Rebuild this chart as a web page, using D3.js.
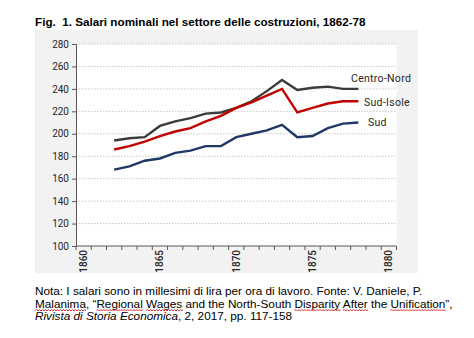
<!DOCTYPE html>
<html><head><meta charset="utf-8">
<script src="https://cdn.jsdelivr.net/npm/d3@7"></script>
<style>
html,body{margin:0;padding:0;background:#fff;}
svg{display:block;}
</style></head>
<body>
<svg id="c" width="474" height="338"></svg>
<script>
const categories = d3.range(1860, 1881);
const years = [1862,1863,1864,1865,1866,1867,1868,1869,1870,1871,1872,1873,1874,1875,1876,1877,1878];
const centroNord = [194,196,197,207,211,214,218,219,223,229,238,248,239,241,242,240,240];
const sudIsole   = [186,189,193,198,202,205,211,216,223,228,234,240,219,223,227,229,229];
const sud        = [168,171,176,178,183,185,189,189,197,200,203,208,197,198,205,209,210];
const yTicks = [100,120,140,160,180,200,220,240,260,280];
const xLabelYears = [1860,1865,1870,1875,1880];
const seriesNames = ["Centro-Nord","Sud-Isole","Sud"];
const seriesColors = ["#3b3b3b","#c00000","#1f3864"];

const svg = d3.select("#c");
const L = 76, R = 396.5, T = 44, B = 246;

svg.append("rect").attr("x",35).attr("y",30).attr("width",383).attr("height",243).attr("fill","#f2f2f2");
svg.append("rect").attr("x",L).attr("y",T).attr("width",R-L).attr("height",B-T).attr("fill","#ffffff");

const x = d3.scaleBand().domain(categories).range([L,R]).padding(0);
const y = d3.scaleLinear().domain([100,280]).range([B,T]);
const cx = d => x(d) + x.bandwidth()/2;

// gridlines
svg.append("g").selectAll("line").data(yTicks.filter(v=>v>100)).join("line")
  .attr("x1",L).attr("x2",R).attr("y1",d=>y(d)).attr("y2",d=>y(d))
  .attr("stroke","#c8c8c8").attr("stroke-width",1).attr("stroke-dasharray","1.5,1.5");

// y axis
const yAxis = d3.axisLeft(y).tickValues(yTicks).tickSize(4).tickPadding(3);
const gy = svg.append("g").attr("transform",`translate(${L},0)`).call(yAxis);
gy.select(".domain").attr("stroke","#595959");
gy.selectAll(".tick line").attr("stroke","#595959");
gy.selectAll(".tick text").attr("font-family","Roboto, sans-serif").attr("font-size","10px").attr("fill","#262626");

// x axis: ticks at band boundaries
const gx = svg.append("g");
gx.append("line").attr("x1",L).attr("x2",R).attr("y1",B).attr("y2",B).attr("stroke","#595959");
gx.selectAll("line.t").data(categories.concat([categories[categories.length-1]+1])).join("line").attr("class","t")
  .attr("x1",(d,i)=> i<categories.length ? x(d) : R).attr("x2",(d,i)=> i<categories.length ? x(d) : R)
  .attr("y1",B).attr("y2",B+4).attr("stroke","#595959");
gx.selectAll("text").data(xLabelYears).join("text")
  .attr("transform",d=>`translate(${cx(d)+3.5},${B+4}) rotate(-90)`)
  .attr("text-anchor","end")
  .attr("font-family","Roboto, sans-serif").attr("font-size","10px").attr("font-weight","500").attr("fill","#262626")
  .text(d=>d);

// lines
const line = d3.line().x((d,i)=>cx(years[i])).y(d=>y(d));
[centroNord,sudIsole,sud].forEach((s,k)=>{
  svg.append("path").datum(s).attr("d",line).attr("fill","none")
    .attr("stroke",seriesColors[k]).attr("stroke-width",2.4).attr("stroke-linejoin","miter");
});

// series labels
const labPos = [[351,82],[364,106],[368,126]];
svg.append("g").selectAll("text").data(seriesNames).join("text")
  .attr("x",(d,i)=>labPos[i][0]).attr("y",(d,i)=>labPos[i][1])
  .attr("font-family","Roboto, sans-serif").attr("font-size","10.5px").attr("fill","#262626")
  .attr("letter-spacing","0.3px")
  .text(d=>d);

// title
svg.append("text").attr("x",35).attr("y",26)
  .attr("font-family","'Liberation Sans', Arial, sans-serif").attr("font-weight","bold").attr("font-size","11.7px").attr("fill","#000")
  .text("Fig.\u00a0 1. Salari nominali nel settore delle costruzioni, 1862-78");

// note
const nf = "'Liberation Sans', Arial, sans-serif";
const fs = "11.75px";
svg.append("text").attr("x",35).attr("y",295).attr("font-family",nf).attr("font-size",fs).attr("fill","#000")
  .text("Nota: I salari sono in millesimi di lira per ora di lavoro. Fonte: V. Daniele, P.");
const l2 = svg.append("text").attr("x",35).attr("y",307.5).attr("font-family",nf).attr("font-size",fs).attr("fill","#000")
  .text("Malanima, \u201cRegional Wages and the North-South Disparity After the Unification\u201d,");
const l3 = svg.append("text").attr("x",35).attr("y",319.5).attr("font-family",nf).attr("font-size",fs).attr("fill","#000");
l3.append("tspan").attr("font-style","italic").text("Rivista di Storia Economica");
l3.append("tspan").text(", 2, 2017, pp. 117-158");

// spell-check squiggles
const s2 = "Malanima, \u201cRegional Wages and the North-South Disparity After the Unification\u201d,";
const node = l2.node();
["Malanima","Regional","Wages","Disparity","After","Unification"].forEach(w=>{
  const i = s2.indexOf(w);
  const x0 = node.getStartPositionOfChar(i).x;
  const wd = node.getSubStringLength(i, w.length);
  let d = `M${x0},${310.5}`;
  for (let xx = x0, k=0; xx < x0+wd; xx += 1.5, k++) d += ` L${Math.min(xx+1.5,x0+wd)},${k%2===0?309.5:311}`;
  svg.append("path").attr("d",d).attr("fill","none").attr("stroke","#e03030").attr("stroke-width",1);
});
</script>
</body></html>
